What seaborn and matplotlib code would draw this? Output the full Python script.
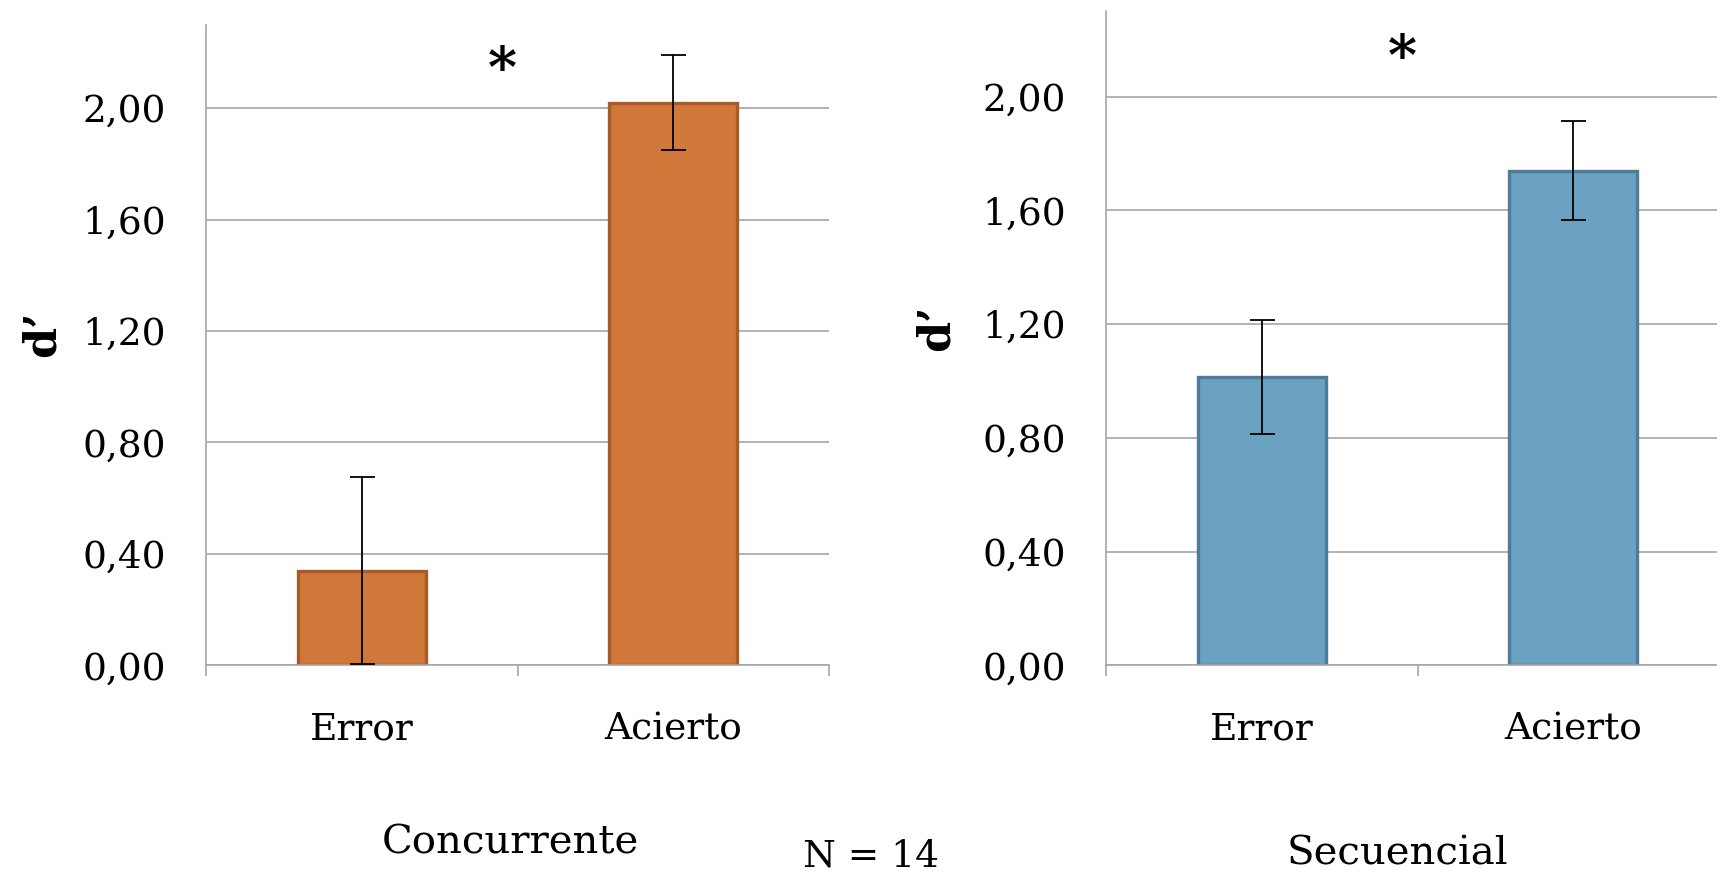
import numpy as np
import pandas as pd
import matplotlib
matplotlib.use("Agg")
import matplotlib.pyplot as plt
import seaborn as sns
from matplotlib.ticker import FixedLocator

# datos (d' medio y error)
categorias = ["Error", "Acierto"]
conc_media = [0.34, 2.02]
conc_error = [0.335, 0.17]
sec_media = [1.015, 1.74]
sec_error = [0.20, 0.175]
yticks = [0.0, 0.4, 0.8, 1.2, 1.6, 2.0]
ytick_labels = ["0,00", "0,40", "0,80", "1,20", "1,60", "2,00"]

sns.set_style("white")
plt.rcParams["font.family"] = ["DejaVu Serif", "DejaVu Sans"]
plt.rcParams["text.color"] = "black"
plt.rcParams["xtick.color"] = "black"
plt.rcParams["ytick.color"] = "black"

GRIS = "#A6A6A6"


def panel(ax, medias, errores, fill, edge):
    df = pd.DataFrame({"cond": categorias, "dprime": medias})
    sns.barplot(data=df, x="cond", y="dprime", color=fill, edgecolor=edge,
                linewidth=2.4, width=0.41, saturation=1, errorbar=None, ax=ax, zorder=2)
    ax.errorbar(np.arange(len(medias)), medias, yerr=errores, fmt="none",
                ecolor="black", elinewidth=1.3, capsize=9, capthick=1.3, zorder=3)
    ax.set_xlim(-0.5, 1.5)
    ax.set_ylim(0, 2.3)
    ax.set_yticks(yticks)
    ax.set_yticklabels(ytick_labels)
    ax.yaxis.grid(True, color=GRIS, linewidth=1.2)
    ax.set_axisbelow(True)
    for s in ["top", "right"]:
        ax.spines[s].set_visible(False)
    for s in ["left", "bottom"]:
        ax.spines[s].set_color(GRIS)
        ax.spines[s].set_linewidth(1.2)
    ax.tick_params(axis="x", which="major", length=0, pad=33, labelsize=27,
                   labelcolor="black")
    ax.tick_params(axis="y", which="major", length=0, pad=29, labelsize=27,
                   labelcolor="black")
    ax.xaxis.set_minor_locator(FixedLocator([-0.5, 0.5, 1.5]))
    ax.yaxis.set_minor_locator(FixedLocator([0.0]))
    ax.tick_params(which="minor", length=8, width=1.2, color=GRIS, direction="out",
                   bottom=True, left=True)
    ax.set_xlabel("")
    ax.set_ylabel("")
    ax.text(0.45, 2.13, "*", ha="center", va="center", fontsize=40, fontweight="bold",
            color="black")


fig = plt.figure(figsize=(17.17, 8.8), dpi=100)
ax1 = fig.add_axes([0.120, 0.244, 0.3628, 0.728])
ax2 = fig.add_axes([0.6442, 0.244, 0.3628, 0.743])

panel(ax1, conc_media, conc_error, "#D0773A", "#A65B28")
panel(ax2, sec_media, sec_error, "#6BA2C2", "#4E7C99")

fig.text(42 / 1717, 1 - 334 / 880, "d’", rotation=90, ha="center", va="center",
         fontsize=32, fontweight="bold")
fig.text(936 / 1717, 1 - 328 / 880, "d’", rotation=90, ha="center", va="center",
         fontsize=32, fontweight="bold")

fig.text(510 / 1717, 1 - 843 / 880, "Concurrente", ha="center", va="center", fontsize=29)
fig.text(1397 / 1717, 1 - 854 / 880, "Secuencial", ha="center", va="center", fontsize=29)
fig.text(871 / 1717, 1 - 856 / 880, "N = 14", ha="center", va="center", fontsize=27)

fig.savefig("out.png", dpi=100)
